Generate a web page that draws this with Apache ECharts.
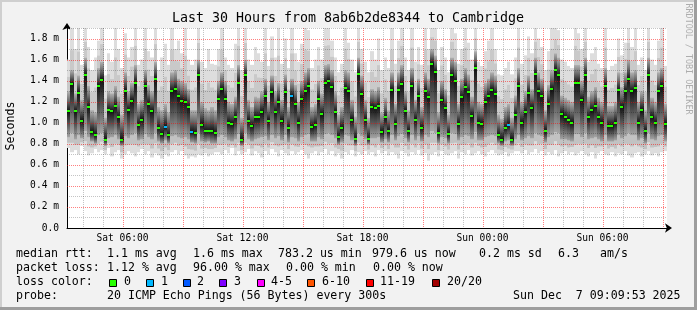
<!DOCTYPE html>
<html><head><meta charset="utf-8">
<script src="https://cdn.jsdelivr.net/npm/echarts@6/dist/echarts.min.js"></script>
<style>
html,body{margin:0;padding:0;background:#f2f2f2;}
#wrap{position:relative;width:697px;height:310px;overflow:hidden;}
#chart{position:absolute;left:0;top:0;width:697px;height:310px;}
.b{position:absolute;}
</style></head><body>
<div id="wrap"><div id="chart"></div>
<div class="b" style="left:0;top:0;width:697px;height:2px;background:#cfcfcf"></div>
<div class="b" style="left:0;top:0;width:2px;height:310px;background:#cfcfcf"></div>
<div class="b" style="left:0;top:307px;width:697px;height:3px;background:#9e9e9e"></div>
<div class="b" style="left:694px;top:0;width:3px;height:310px;background:#9e9e9e"></div>
</div>
<script>
// ---- time axis (hours since Sat 00:00) ----
const startHour = 3.225;          // Sat 03:13:30
const spanHours = 30;
const stepHours = 1 / 6;          // 10-minute columns
const xTickHours = [6, 12, 18, 24, 30];
const xTickLabels = ['Sat 06:00', 'Sat 12:00', 'Sat 18:00', 'Sun 00:00', 'Sun 06:00'];
const yTickValues = [0, 0.2, 0.4, 0.6, 0.8, 1.0, 1.2, 1.4, 1.6, 1.8];
const yTickLabels = ['0.0', '0.2 m', '0.4 m', '0.6 m', '0.8 m', '1.0 m', '1.2 m', '1.4 m', '1.6 m', '1.8 m'];

// ---- median rtt (ms) per column ----
const medianMs = [
1.11,1.37,1.11,1.28,1.02,1.45,1.15,0.91,0.88,1.35,1.41,0.84,1.12,1.11,1.16,1.05,0.84,1.30,1.12,1.21,1.38,0.98,1.03,1.35,1.18,1.11,1.42,0.95,0.89,0.96,0.88,1.30,1.32,1.25,1.21,1.20,1.15,0.91,0.90,1.45,0.98,0.92,0.92,0.92,0.90,
1.23,1.32,1.23,1.00,0.99,1.05,1.38,0.84,1.45,1.02,0.97,1.05,1.05,1.10,1.25,1.02,1.29,1.10,1.20,1.02,1.29,0.95,1.25,1.18,1.00,1.23,1.30,1.35,0.96,0.98,1.23,1.08,1.38,1.40,1.34,1.10,0.86,0.95,1.33,1.30,1.03,0.85,1.46,1.27,1.03,
0.85,1.15,1.14,1.16,0.91,1.05,0.92,1.31,0.99,1.31,1.37,1.11,0.92,1.35,1.03,1.25,0.95,1.30,1.24,1.56,1.48,0.90,1.22,1.14,0.89,1.45,1.40,0.99,1.24,1.34,1.29,1.06,1.52,1.00,0.99,1.20,1.25,1.31,1.27,0.88,0.84,0.95,0.98,0.84,1.07,
1.35,1.00,1.10,1.28,1.14,1.46,1.30,1.25,0.92,1.18,1.32,1.50,1.45,1.08,1.05,1.03,1.00,1.38,1.38,1.22,1.45,1.05,1.12,1.16,1.05,1.00,1.35,0.97,0.97,1.00,1.31,1.15,1.30,1.42,1.30,1.33,1.00,1.12,0.92,1.45,1.05,1.00,1.30,1.35,0.99
];
// ---- smoke: lowest ping ----
const minMs = [
0.76,0.72,0.74,0.70,0.78,0.73,0.69,0.71,0.75,0.72,0.74,0.70,0.76,0.68,0.72,0.74,0.66,0.70,0.73,0.71,0.68,0.72,0.75,0.70,0.73,0.67,0.71,0.69,0.66,0.70,0.68,0.72,0.74,0.70,0.73,0.69,0.66,0.68,0.67,0.70,0.69,0.71,0.68,0.70,0.72,
0.72,0.70,0.74,0.71,0.76,0.69,0.73,0.70,0.72,0.75,0.69,0.73,0.71,0.67,0.73,0.70,0.75,0.72,0.68,0.74,0.71,0.69,0.73,0.70,0.72,0.74,0.70,0.66,0.71,0.73,0.69,0.72,0.75,0.70,0.73,0.68,0.71,0.66,0.72,0.70,0.74,0.68,0.72,0.70,0.73,
0.70,0.72,0.68,0.74,0.71,0.73,0.69,0.72,0.70,0.66,0.73,0.71,0.68,0.72,0.70,0.74,0.69,0.71,0.64,0.70,0.72,0.68,0.73,0.70,0.69,0.71,0.73,0.66,0.72,0.70,0.74,0.69,0.71,0.73,0.70,0.68,0.72,0.74,0.71,0.69,0.70,0.72,0.68,0.71,0.73,
0.73,0.71,0.74,0.70,0.72,0.75,0.71,0.73,0.69,0.72,0.70,0.74,0.68,0.71,0.73,0.70,0.72,0.69,0.71,0.73,0.70,0.68,0.72,0.66,0.71,0.73,0.70,0.69,0.72,0.68,0.71,0.70,0.73,0.69,0.67,0.71,0.72,0.68,0.70,0.73,0.69,0.71,0.68,0.72,0.73
];
// ---- smoke: lower edge of the dense core ----
const lowMs = [
0.86,0.90,0.84,0.88,0.85,0.92,0.86,0.82,0.80,0.88,0.90,0.78,0.85,0.86,0.88,0.84,0.78,0.87,0.85,0.88,0.90,0.83,0.84,0.89,0.86,0.84,0.90,0.82,0.80,0.83,0.80,0.87,0.88,0.86,0.85,0.86,0.84,0.81,0.80,0.90,0.82,0.81,0.82,0.80,0.80,
0.86,0.88,0.86,0.83,0.82,0.84,0.89,0.78,0.90,0.84,0.82,0.84,0.85,0.86,0.87,0.83,0.88,0.85,0.87,0.83,0.88,0.81,0.86,0.85,0.82,0.86,0.88,0.89,0.82,0.82,0.86,0.84,0.89,0.90,0.88,0.85,0.79,0.81,0.88,0.87,0.83,0.78,0.90,0.87,0.84,
0.79,0.85,0.85,0.86,0.81,0.84,0.81,0.88,0.83,0.87,0.89,0.85,0.81,0.88,0.83,0.87,0.82,0.88,0.86,0.92,0.90,0.80,0.86,0.85,0.80,0.90,0.89,0.83,0.86,0.88,0.87,0.84,0.91,0.83,0.83,0.86,0.87,0.88,0.87,0.80,0.78,0.82,0.83,0.78,0.84,
0.88,0.83,0.85,0.87,0.85,0.90,0.88,0.87,0.81,0.86,0.88,0.91,0.90,0.84,0.84,0.83,0.82,0.89,0.89,0.86,0.90,0.84,0.85,0.86,0.84,0.82,0.88,0.82,0.82,0.83,0.88,0.85,0.87,0.90,0.88,0.88,0.83,0.85,0.80,0.90,0.84,0.83,0.87,0.88,0.82
];
// ---- smoke: upper edge of the dense core ----
const highMs = [
1.30,1.50,1.28,1.45,1.22,1.62,1.35,1.12,1.10,1.52,1.58,1.05,1.30,1.28,1.35,1.25,1.08,1.48,1.30,1.38,1.55,1.18,1.22,1.50,1.36,1.30,1.58,1.15,1.12,1.18,1.10,1.48,1.50,1.42,1.40,1.38,1.32,1.12,1.12,1.60,1.20,1.14,1.12,1.15,1.12,
1.40,1.48,1.40,1.20,1.18,1.25,1.55,1.05,1.60,1.22,1.15,1.25,1.24,1.30,1.42,1.20,1.45,1.30,1.38,1.22,1.46,1.15,1.42,1.36,1.20,1.40,1.48,1.52,1.15,1.18,1.40,1.28,1.55,1.56,1.50,1.30,1.08,1.15,1.50,1.48,1.22,1.06,1.62,1.45,1.22,
1.05,1.32,1.30,1.34,1.10,1.24,1.12,1.48,1.18,1.48,1.55,1.30,1.12,1.52,1.22,1.42,1.15,1.48,1.42,1.70,1.64,1.10,1.40,1.32,1.08,1.62,1.58,1.18,1.42,1.52,1.46,1.25,1.68,1.20,1.18,1.38,1.42,1.48,1.45,1.08,1.04,1.15,1.18,1.05,1.26,
1.52,1.20,1.30,1.45,1.32,1.62,1.48,1.42,1.12,1.36,1.50,1.66,1.62,1.26,1.24,1.22,1.20,1.55,1.55,1.40,1.62,1.25,1.30,1.34,1.24,1.20,1.52,1.16,1.16,1.20,1.48,1.34,1.48,1.60,1.48,1.50,1.20,1.30,1.12,1.62,1.24,1.20,1.48,1.52,1.18
];
// ---- smoke: highest ping ----
const maxMs = [
1.60,1.92,1.70,1.95,1.55,1.95,1.72,1.50,1.62,1.78,1.95,1.45,1.66,1.58,1.95,1.70,1.52,1.85,1.62,1.72,1.95,1.55,1.60,1.95,1.68,1.62,1.95,1.50,1.62,1.75,1.55,1.95,1.70,1.78,1.66,1.95,1.60,1.55,1.60,1.95,1.58,1.52,1.70,1.56,1.55,
1.70,1.95,1.62,1.55,1.52,1.75,1.95,1.50,1.95,1.60,1.55,1.72,1.66,1.58,1.95,1.54,1.82,1.62,1.95,1.56,1.80,1.52,1.95,1.66,1.58,1.75,1.95,1.88,1.52,1.60,1.72,1.60,1.95,1.95,1.78,1.62,1.48,1.56,1.95,1.76,1.60,1.48,1.95,1.70,1.58,
1.48,1.68,1.60,1.80,1.50,1.62,1.52,1.95,1.56,1.78,1.95,1.62,1.50,1.95,1.58,1.72,1.55,1.95,1.70,1.95,1.95,1.50,1.72,1.62,1.48,1.95,1.85,1.56,1.70,1.95,1.76,1.60,1.95,1.58,1.54,1.68,1.78,1.95,1.70,1.46,1.45,1.52,1.58,1.46,1.62,
1.95,1.56,1.64,1.82,1.66,1.95,1.80,1.72,1.50,1.68,1.95,1.95,1.88,1.60,1.58,1.54,1.52,1.95,1.85,1.70,1.95,1.58,1.66,1.72,1.56,1.52,1.95,1.50,1.54,1.56,1.80,1.64,1.76,1.95,1.72,1.90,1.55,1.62,1.50,1.95,1.60,1.55,1.78,1.95,1.54
];
// ---- lost pings (of 20) per column ----
const lossPings = [
0,0,0,0,0,0,0,0,0,0,0,0,0,0,0,0,0,0,0,0,0,0,0,0,0,0,0,0,0,1,0,0,0,0,0,0,0,1,0,0,0,0,0,0,0,
0,0,0,0,0,0,0,0,0,0,0,0,0,0,0,0,0,0,0,0,0,0,1,0,0,0,0,0,0,0,0,0,0,0,0,0,0,0,0,0,0,0,0,0,0,
0,0,0,0,0,0,0,0,0,0,0,0,0,0,0,0,0,0,0,0,0,0,0,0,0,0,0,0,0,0,0,0,0,0,0,0,0,0,0,0,0,0,1,0,0,
0,0,0,0,0,0,0,0,0,0,0,0,0,0,0,0,0,0,0,0,0,0,0,0,0,0,0,0,0,0,0,0,0,0,0,0,0,0,0,0,0,0,0,0,0
];
// ---- loss colour legend ----
const lossLabels = ['0', '1', '2', '3', '4-5', '6-10', '11-19', '20/20'];
const lossUpper  = [0, 1, 2, 3, 5, 10, 19, 20];
const lossColors = ['#26ff00', '#00b8ff', '#0059ff', '#7e00ff', '#ff00ff', '#ff5500', '#ff0000', '#a10000'];

// ---- texts ----
const titleText = 'Last 30 Hours from 8ab6b2de8344 to Cambridge';
const yAxisTitle = 'Seconds';
const watermark = 'RRDTOOL / TOBI OETIKER';
const rttRow = ['median rtt:', '1.1 ms avg', '1.6 ms max', '783.2 us min', '979.6 us now', '0.2 ms sd', '6.3', 'am/s'];
const lossRow = ['packet loss:', '1.12 % avg', '96.00 % max', '0.00 % min', '0.00 % now'];
const lossColorTitle = 'loss color:';
const probeRow = ['probe:', '20 ICMP Echo Pings (56 Bytes) every 300s', 'Sun Dec  7 09:09:53 2025'];

// ---------------- layout / drawing ----------------
const MONO = '"DejaVu Sans Mono", "Liberation Mono", monospace';
const rttX = [16, 107, 193, 278, 372, 479, 558, 600];
const lossX = [16, 107, 193, 286, 373];
const probeX = [16, 107, 513];
const swatchX = [109, 146, 183, 219, 257, 307, 366, 432];
const swatchTextX = [124, 161, 197, 234, 271, 322, 380, 447];

function lossColor(n) {
  for (let i = 0; i < lossUpper.length; i++) if (n <= lossUpper[i]) return lossColors[i];
  return lossColors[lossColors.length - 1];
}

const smokeData = medianMs.map((m, i) => [startHour + i * stepHours, minMs[i], lowMs[i], m, highMs[i], maxMs[i]]);
const medianData = medianMs.map((m, i) => [startHour + i * stepHours, m, lossPings[i]]);

function colRect(api, x0) {
  const xa = Math.round(api.coord([x0, 0])[0]);
  const xb = Math.round(api.coord([x0 + stepHours, 0])[0]);
  return [xa, xb - xa];
}

function band(children, cs, xa, w, yTop, yBottom, fill) {
  const r = echarts.graphic.clipRectByRect({ x: xa, y: yTop, width: w, height: yBottom - yTop }, cs);
  if (r) children.push({ type: 'rect', shape: r, style: { fill } });
}

function renderSmoke(params, api) {
  const x0 = api.value(0);
  const [xa, w] = colRect(api, x0);
  const yMin = api.coord([x0, api.value(1)])[1];
  const yLow = api.coord([x0, api.value(2)])[1];
  const yMed = api.coord([x0, api.value(3)])[1];
  const yHigh = api.coord([x0, api.value(4)])[1];
  const yMax = api.coord([x0, api.value(5)])[1];
  const cs = params.coordSys;
  const children = [];
  band(children, cs, xa, w, yMax, yMin, '#dddddd');
  band(children, cs, xa, w, yHigh - (yHigh - yMax) * 0.45, yHigh, '#c9c9c9');
  band(children, cs, xa, w, yLow, yLow + (yMin - yLow) * 0.5, '#c2c2c2');
  const ih = yLow - yHigh;
  const m = Math.min(0.98, Math.max(0.02, (yMed - yHigh) / ih));
  band(children, cs, xa, w, yHigh, yLow, new echarts.graphic.LinearGradient(0, 0, 0, 1, [
    { offset: 0, color: '#b2b2b2' },
    { offset: m * 0.5, color: '#6a6a6a' },
    { offset: m, color: '#121212' },
    { offset: m + (1 - m) * 0.5, color: '#585858' },
    { offset: 1, color: '#a6a6a6' }
  ]));
  return { type: 'group', children };
}

function renderMedian(params, api) {
  const x0 = api.value(0);
  const [xa, w] = colRect(api, x0);
  const y = Math.round(api.coord([x0, api.value(1)])[1]);
  return { type: 'rect', shape: { x: xa, y: y - 1, width: Math.min(w, 3), height: 2 },
    style: { fill: lossColor(api.value(2)) } };
}

// grid line positions: [x, y, vertical?, major?]
const gridLines = [];
for (let h = Math.ceil(startHour); h <= startHour + spanHours; h++) gridLines.push([h, 0, 1, h % 3 === 0 ? 1 : 0]);
for (let k = 1; k <= 19; k++) gridLines.push([startHour, k / 10, 0, k % 2 === 0 ? 1 : 0]);
const MINOR_GRID = 'rgba(0,0,0,0.23)';
const MAJOR_GRID = 'rgba(255,0,0,0.5)';

// dotted grid drawn as 1px dots (every other pixel), translucent over the smoke
function renderGrid(params, api) {
  const cs = params.coordSys;
  const item = gridLines[params.dataIndex];
  const color = item[3] === 1 ? MAJOR_GRID : MINOR_GRID;
  const dots = [];
  if (item[2] === 1) {
    const x = Math.round(api.coord([item[0], 0])[0]);
    for (let y = Math.round(cs.y); y < cs.y + cs.height; y += 2)
      dots.push({ type: 'rect', shape: { x, y, width: 1, height: 1 }, style: { fill: color } });
  } else {
    const y = Math.round(api.coord([startHour, item[1]])[1]);
    for (let x = Math.round(cs.x); x < cs.x + cs.width; x += 2)
      dots.push({ type: 'rect', shape: { x, y, width: 1, height: 1 }, style: { fill: color } });
  }
  return { type: 'group', children: dots };
}

const txt = (text, x, y, extra) => ({
  type: 'text', silent: true,
  style: Object.assign({ text, x, y, font: '11.6px ' + MONO, fill: '#000',
    align: 'left', verticalAlign: 'middle', textAlign: 'left', textVerticalAlign: 'middle' }, extra || {})
});

const graphics = [];
graphics.push(txt(titleText, 348, 19, { font: '13.3px ' + MONO, align: 'center', textAlign: 'center' }));
graphics.push({ type: 'text', silent: true, x: 11, y: 126, rotation: Math.PI / 2,
  style: { text: yAxisTitle, x: 0, y: 0, font: '11.6px ' + MONO, fill: '#000', align: 'center', verticalAlign: 'middle', textAlign: 'center', textVerticalAlign: 'middle' } });
graphics.push({ type: 'text', silent: true, x: 688, y: 59, rotation: -Math.PI / 2,
  style: { text: watermark, x: 0, y: 0, font: '8.4px ' + MONO, fill: '#adadad', align: 'center', verticalAlign: 'middle', textAlign: 'center', textVerticalAlign: 'middle' } });
rttRow.forEach((t, i) => graphics.push(txt(t, rttX[i], 254)));
lossRow.forEach((t, i) => graphics.push(txt(t, lossX[i], 268)));
graphics.push(txt(lossColorTitle, 16, 282));
lossLabels.forEach((t, i) => {
  graphics.push({ type: 'rect', silent: true, shape: { x: swatchX[i] + 0.5, y: 279.5, width: 7, height: 7 },
    style: { fill: lossColors[i], stroke: '#000', lineWidth: 1 } });
  graphics.push(txt(t, swatchTextX[i], 282));
});
probeRow.forEach((t, i) => graphics.push(txt(t, probeX[i], 296)));

const chart = echarts.init(document.getElementById('chart'), null, { renderer: 'canvas' });
chart.setOption({
  animation: false,
  backgroundColor: '#f2f2f2',
  grid: { left: 67, right: 30, top: 28, bottom: 82, show: true, backgroundColor: '#ffffff', borderWidth: 0 },
  xAxis: {
    type: 'value', min: startHour, max: startHour + spanHours,
    axisLine: { show: true, lineStyle: { color: '#000', width: 1 }, symbol: ['none', 'arrow'], symbolSize: [7, 7], symbolOffset: [0, 5] },
    axisTick: { show: false },
    splitLine: { show: false },
    axisLabel: {
      customValues: xTickHours, margin: 5, color: '#000', fontFamily: MONO, fontSize: 9.6,
      formatter: v => xTickLabels[xTickHours.indexOf(Math.round(v))] || ''
    }
  },
  yAxis: {
    type: 'value', min: 0, max: 1.9,
    axisLine: { show: true, lineStyle: { color: '#000', width: 1 }, symbol: ['none', 'arrow'], symbolSize: [7, 7], symbolOffset: [0, 5] },
    axisTick: { show: false },
    splitLine: { show: false },
    axisLabel: {
      customValues: yTickValues, margin: 8, color: '#000', fontFamily: MONO, fontSize: 9.6,
      formatter: v => yTickLabels[Math.round(v * 5)] || ''
    }
  },
  series: [
    { type: 'custom', name: 'smoke', z: 2, renderItem: renderSmoke, data: smokeData,
      encode: { x: 0, y: [1, 2, 3, 4, 5] }, silent: true },
    { type: 'custom', name: 'grid', z: 3, renderItem: renderGrid, data: gridLines,
      encode: { x: 0, y: 1 }, silent: true },
    { type: 'custom', name: 'median', z: 4, renderItem: renderMedian, data: medianData,
      encode: { x: 0, y: 1 }, silent: true }
  ],
  graphic: graphics
});
</script>
</body></html>
